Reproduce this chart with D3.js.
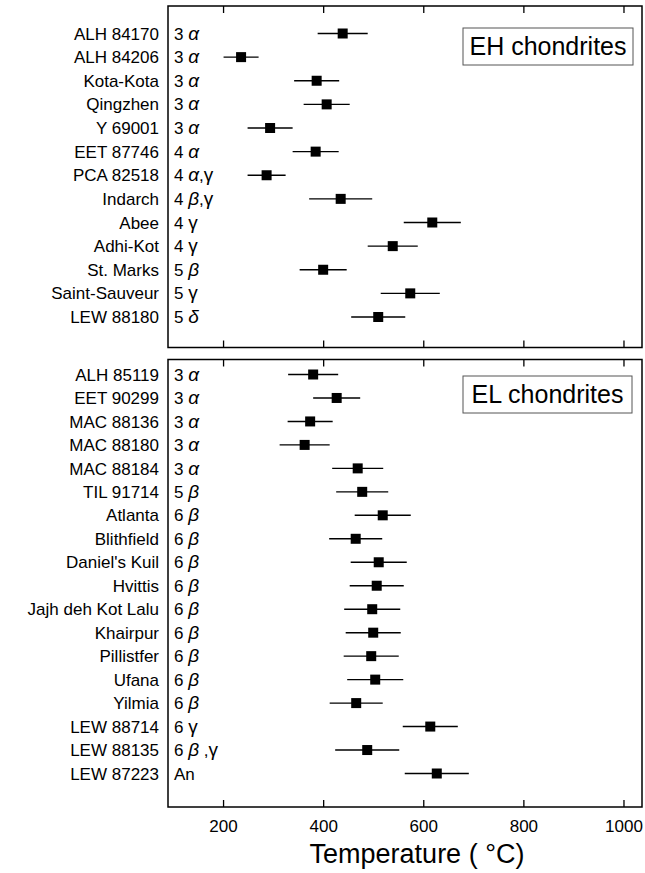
<!DOCTYPE html>
<html>
<head>
<meta charset="utf-8">
<script src="https://cdn.jsdelivr.net/npm/d3@7"></script>
<style>
  body { margin: 0; background: #fff; }
  svg { display: block; font-family: "Liberation Sans", Arial, Helvetica, sans-serif; }
</style>
</head>
<body>
<div id="chart"></div>
<script>
// EH chondrites
const ehNames = ["ALH 84170", "ALH 84206", "Kota-Kota", "Qingzhen", "Y 69001", "EET 87746", "PCA 82518",
  "Indarch", "Abee", "Adhi-Kot", "St. Marks", "Saint-Sauveur", "LEW 88180"];
const ehTypes = ["3 α", "3 α", "3 α", "3 α", "3 α", "4 α", "4 α,γ", "4 β,γ", "4 γ", "4 γ", "5 β", "5 γ", "5 δ"];
const ehTemp = [439, 236, 387, 407, 294, 385, 287, 435, 618, 539, 400, 574, 510];
const ehErr = [50, 35, 45, 46, 45, 46, 38, 63, 57, 50, 47, 59, 54];

// EL chondrites
const elNames = ["ALH 85119", "EET 90299", "MAC 88136", "MAC 88180", "MAC 88184", "TIL 91714", "Atlanta",
  "Blithfield", "Daniel's Kuil", "Hvittis", "Jajh deh Kot Lalu", "Khairpur", "Pillistfer", "Ufana",
  "Yilmia", "LEW 88714", "LEW 88135", "LEW 87223"];
const elTypes = ["3 α", "3 α", "3 α", "3 α", "3 α", "5 β", "6 β", "6 β", "6 β", "6 β", "6 β", "6 β", "6 β",
  "6 β", "6 β", "6 γ", "6 β ,γ", "An"];
const elTemp = [380, 427, 374, 363, 469, 478, 519, 465, 511, 507, 498, 500, 496, 504, 466, 614, 488, 627];
const elErr = [50, 47, 45, 50, 51, 52, 56, 53, 56, 54, 56, 55, 55, 56, 53, 55, 64, 64];

const xTicks = [200, 400, 600, 800, 1000];

const width = 645, height = 873;
const left = 168, right = 642;

const svg = d3.select("#chart").append("svg")
  .attr("width", width)
  .attr("height", height);

const x = d3.scaleLinear().domain([90, 1037]).range([left, right]);

const panels = [
  {names: ehNames, types: ehTypes, temp: ehTemp, err: ehErr, top: 6, bottom: 347.5,
   rows: [33.5, 317], title: "EH chondrites", box: [463, 28, 170, 37], axis: false},
  {names: elNames, types: elTypes, temp: elTemp, err: elErr, top: 359.5, bottom: 807,
   rows: [374.5, 773.5], title: "EL chondrites", box: [463, 376, 169, 37], axis: true}
];

function typeLabel(sel, t) {
  // greek letters set in italic like the original symbol font
  for (const ch of t) {
    const greek = "αβδγ".includes(ch);
    sel.append("tspan")
      .attr("font-style", "αβδ".includes(ch) ? "italic" : null)
      .attr("font-size", greek ? 19 : null)
      .text(ch);
  }
}

panels.forEach(p => {
  const y = d3.scalePoint().domain(p.names).range(p.rows);
  const g = svg.append("g");

  const data = p.names.map((n, i) => ({name: n, type: p.types[i], t: p.temp[i], e: p.err[i]}));

  // inward ticks on top and bottom edges
  g.append("g")
    .attr("transform", `translate(0,${p.top})`)
    .call(d3.axisTop(x).tickValues(xTicks).tickSize(-7).tickFormat(""))
    .call(a => a.select(".domain").remove())
    .selectAll("line").attr("stroke-width", 1.3);

  const bx = g.append("g")
    .attr("transform", `translate(0,${p.bottom})`)
    .call(d3.axisBottom(x).tickValues(xTicks).tickSize(-7).tickPadding(13)
      .tickFormat(p.axis ? d3.format("d") : ""))
    .call(a => a.select(".domain").remove());
  bx.selectAll("line").attr("stroke-width", 1.3);
  bx.selectAll("text")
    .attr("font-size", 17)
    .attr("font-family", "Liberation Sans, Arial, sans-serif")
    .attr("fill", "#000");

  // frame
  g.append("rect")
    .attr("x", left).attr("y", p.top)
    .attr("width", right - left).attr("height", p.bottom - p.top)
    .attr("fill", "none").attr("stroke", "#000").attr("stroke-width", 1.5);

  // meteorite names
  g.selectAll(".name").data(data).join("text")
    .attr("class", "name")
    .attr("x", 159)
    .attr("y", d => y(d.name))
    .attr("dy", "0.36em")
    .attr("text-anchor", "end")
    .attr("font-size", 17)
    .text(d => d.name);

  // petrologic type / phase
  g.selectAll(".type").data(data).join("text")
    .attr("class", "type")
    .attr("x", 174)
    .attr("y", d => y(d.name))
    .attr("dy", "0.36em")
    .attr("font-size", 17)
    .each(function(d) { typeLabel(d3.select(this), d.type); });

  // error bars
  g.selectAll(".err").data(data).join("line")
    .attr("class", "err")
    .attr("x1", d => x(d.t - d.e))
    .attr("x2", d => x(d.t + d.e))
    .attr("y1", d => y(d.name))
    .attr("y2", d => y(d.name))
    .attr("stroke", "#000")
    .attr("stroke-width", 1.4);

  g.selectAll(".pt").data(data).join("rect")
    .attr("class", "pt")
    .attr("x", d => x(d.t) - 5)
    .attr("y", d => y(d.name) - 5)
    .attr("width", 10)
    .attr("height", 10)
    .attr("fill", "#000");

  // legend box
  g.append("rect")
    .attr("x", p.box[0]).attr("y", p.box[1])
    .attr("width", p.box[2]).attr("height", p.box[3])
    .attr("fill", "#fff").attr("stroke", "#555").attr("stroke-width", 1);
  g.append("text")
    .attr("x", p.box[0] + p.box[2] / 2)
    .attr("y", p.box[1] + 27)
    .attr("text-anchor", "middle")
    .attr("font-size", 25)
    .text(p.title);
});

svg.append("text")
  .attr("x", 417)
  .attr("y", 863)
  .attr("text-anchor", "middle")
  .attr("font-size", 27)
  .text("Temperature ( °C)");
</script>
</body>
</html>
